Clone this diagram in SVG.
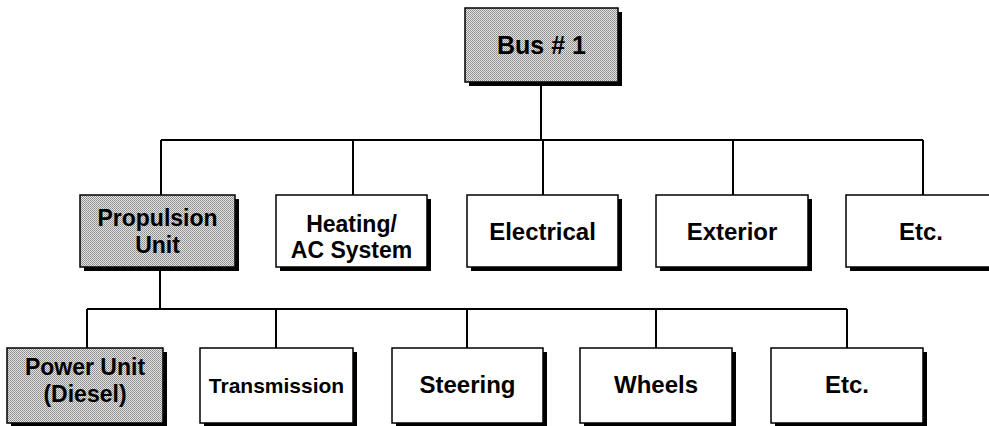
<svg xmlns="http://www.w3.org/2000/svg" width="989" height="426" viewBox="0 0 989 426">
<defs>
<pattern id="dots" width="2" height="2" patternUnits="userSpaceOnUse">
<rect width="2" height="2" fill="#e4e4e4"/>
<rect x="0" y="0" width="1" height="1" fill="#8a8a8a"/>
<rect x="1" y="1" width="1" height="1" fill="#9a9a9a"/>
</pattern>
</defs>
<style>
.sh{fill:#000}
.box{fill:#fff;stroke:#000;stroke-width:1.5}
.shade{fill:url(#dots);stroke:#000;stroke-width:1.5}
.t{font-family:"Liberation Sans",Arial,sans-serif;font-weight:bold;font-size:24px;fill:#000;text-anchor:middle}
.ts{font-size:21px}
.tw{font-size:25px}
.t2{font-size:23px}
.ln{stroke:#000;stroke-width:2;fill:none}
</style>
<rect width="989" height="426" fill="#fff"/>
<g id="connectors">
<path class="ln" d="M541,86 V140 M161,140 H923 M161,140 V195 M353,140 V195 M543,140 V195 M733,140 V195 M923,140 V195"/>
<path class="ln" d="M160,269 V309 M87,309 H847 M87,309 V348 M276,309 V348 M467,309 V348 M656,309 V348 M847,309 V348"/>
</g>
<g id="bus1">
<rect class="sh" x="469" y="12" width="153" height="74"/>
<rect class="shade" x="465" y="8" width="153" height="74"/>
<text class="t tw" x="541.5" y="54">Bus # 1</text>
</g>
<g id="propulsion">
<rect class="sh" x="84" y="199" width="155" height="72"/>
<rect class="shade" x="80" y="195" width="155" height="72"/>
<text class="t t2" x="157.5" y="226">Propulsion</text>
<text class="t t2" x="157.5" y="253">Unit</text>
</g>
<g id="heating">
<rect class="sh" x="280" y="199" width="151" height="72"/>
<rect class="box" x="276" y="195" width="151" height="72"/>
<text class="t t2" x="351.5" y="232">Heating/</text>
<text class="t t2" x="351.5" y="258">AC System</text>
</g>
<g id="electrical">
<rect class="sh" x="471" y="199" width="151" height="72"/>
<rect class="box" x="467" y="195" width="151" height="72"/>
<text class="t" x="542.5" y="240">Electrical</text>
</g>
<g id="exterior">
<rect class="sh" x="660" y="199" width="152" height="72"/>
<rect class="box" x="656" y="195" width="152" height="72"/>
<text class="t" x="732" y="240">Exterior</text>
</g>
<g id="etc1">
<rect class="sh" x="850" y="199" width="152" height="72"/>
<rect class="box" x="846" y="195" width="152" height="72"/>
<text class="t" x="921" y="240">Etc.</text>
</g>
<g id="powerunit">
<rect class="sh" x="11" y="352" width="156" height="75"/>
<rect class="shade" x="7" y="348" width="156" height="75"/>
<text class="t t2" x="85" y="375">Power Unit</text>
<text class="t t2" x="85" y="402">(Diesel)</text>
</g>
<g id="transmission">
<rect class="sh" x="204" y="352" width="153" height="75"/>
<rect class="box" x="200" y="348" width="153" height="75"/>
<text class="t ts" x="276.5" y="393">Transmission</text>
</g>
<g id="steering">
<rect class="sh" x="396" y="352" width="151" height="75"/>
<rect class="box" x="392" y="348" width="151" height="75"/>
<text class="t" x="467.5" y="393">Steering</text>
</g>
<g id="wheels">
<rect class="sh" x="584" y="352" width="152" height="75"/>
<rect class="box" x="580" y="348" width="152" height="75"/>
<text class="t" x="656" y="393">Wheels</text>
</g>
<g id="etc2">
<rect class="sh" x="775" y="352" width="152" height="75"/>
<rect class="box" x="771" y="348" width="152" height="75"/>
<text class="t" x="847" y="393">Etc.</text>
</g>
</svg>
